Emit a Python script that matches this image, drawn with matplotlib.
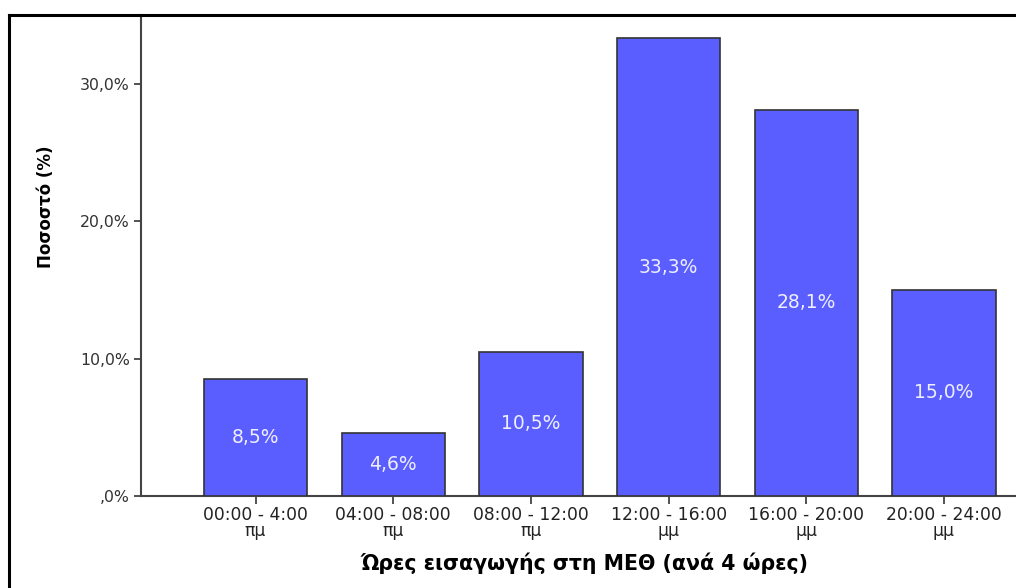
import matplotlib
matplotlib.use("Agg")
import matplotlib.pyplot as plt
from matplotlib.lines import Line2D

categories = ["00:00 - 4:00\nπμ", "04:00 - 08:00\nπμ", "08:00 - 12:00\nπμ",
              "12:00 - 16:00\nμμ", "16:00 - 20:00\nμμ", "20:00 - 24:00\nμμ"]
values = [8.5, 4.6, 10.5, 33.3, 28.1, 15.0]
yticks = [0, 10, 20, 30]
ytick_labels = [",0%", "10,0%", "20,0%", "30,0%"]
xlabel = "Ώρες εισαγωγής στη ΜΕΘ (ανά 4 ώρες)"
ylabel = "Ποσοστό (%)"

plt.rcParams['font.family'] = ['DejaVu Sans']
W, H = 1016, 588
fig = plt.figure(figsize=(W/100, H/100), dpi=100)
ax = fig.add_axes([141/W, 1-496/H, (W-141)/W, (496-15)/H])

x = list(range(len(values)))
bars = ax.bar(x, values, width=0.75, color='#5B5EFF', edgecolor='#333333', linewidth=1.2, zorder=3)
for xi, v in zip(x, values):
    ax.text(xi, v/2, f"{v:.1f}%".replace('.', ','), ha='center', va='center',
            color='#EEEEFF', fontsize=13.5)

ax.set_xlim(-0.832, 5.523)
ax.set_ylim(0, 35)
ax.set_yticks(yticks)
ax.set_yticklabels(ytick_labels, fontsize=11.3, color='#333333')
ax.set_xticks(x)
ax.set_xticklabels(categories, fontsize=12.3, color='#222222', linespacing=0.9)
ax.tick_params(axis='y', length=5, width=1.3, color='#444444', pad=3)
ax.tick_params(axis='x', length=6, width=1.3, color='#444444', pad=1)
for s in ['top', 'right']:
    ax.spines[s].set_visible(False)
for s in ['left', 'bottom']:
    ax.spines[s].set_color('#444444')
    ax.spines[s].set_linewidth(1.5)

ax.set_xlabel(xlabel, fontsize=14.8, fontweight='bold')
ax.xaxis.set_label_coords((585-141)/(W-141), -(553-496)/481)
ax.set_ylabel(ylabel, fontsize=12, fontweight='bold')
ax.yaxis.set_label_coords(-(141-55)/(W-141), (496-207)/481)

# outer frame
fig.add_artist(Line2D([9/W, 1], [1-15/H, 1-15/H], color='black', lw=2.2, transform=fig.transFigure))
fig.add_artist(Line2D([9/W, 9/W], [0, 1-15/H], color='black', lw=2.2, transform=fig.transFigure))

fig.savefig("out.png", dpi=100)
